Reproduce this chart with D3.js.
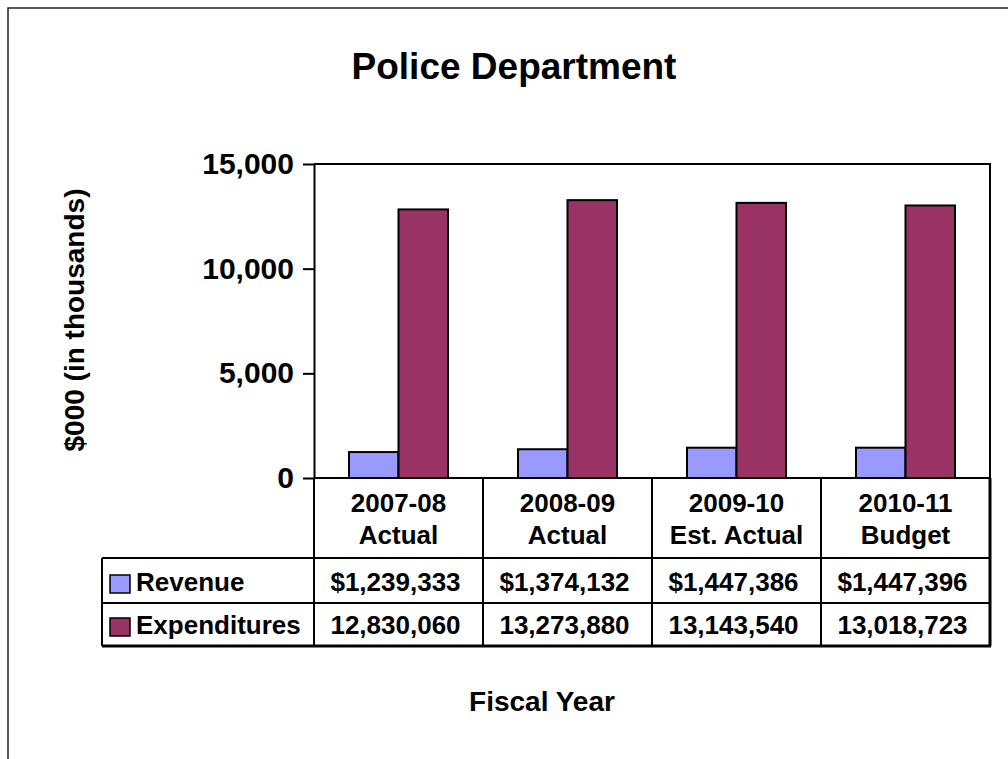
<!DOCTYPE html>
<html>
<head>
<meta charset="utf-8">
<script src="https://cdn.jsdelivr.net/npm/d3@7"></script>
<style>
  html, body { margin: 0; padding: 0; background: #fff; }
  svg { display: block; }
  text { font-family: "Liberation Sans", Arial, sans-serif; font-weight: bold; fill: #000; }
</style>
</head>
<body>
<svg id="chart" width="1008" height="759"></svg>
<script>
// Fiscal years (two header lines each)
const years = ["2007-08", "2008-09", "2009-10", "2010-11"];
const yearNotes = ["Actual", "Actual", "Est. Actual", "Budget"];

// Series names and colours
const seriesNames = ["Revenue", "Expenditures"];
const seriesColors = ["#9999FF", "#993366"];

// Dollar amounts per fiscal year
const revenue = [1239333, 1374132, 1447386, 1447396];
const expenditures = [12830060, 13273880, 13143540, 13018723];

// Labels printed in the data table
const revenueLabels = ["$1,239,333", "$1,374,132", "$1,447,386", "$1,447,396"];
const expenditureLabels = ["12,830,060", "13,273,880", "13,143,540", "13,018,723"];

// Y-axis ticks ($000)
const yTicks = [0, 5000, 10000, 15000];

const svg = d3.select("#chart");

const plot = { left: 314, right: 990, top: 164, bottom: 478 };
const table = { left: 102, headerBottom: 558, row1Bottom: 603, row2Bottom: 646 };

// outer chart frame
svg.append("rect")
  .attr("x", 8).attr("y", 8)
  .attr("width", 1040).attr("height", 800)
  .attr("fill", "#fff").attr("stroke", "#222").attr("stroke-width", 1.5);

// title
svg.append("text")
  .attr("x", 514).attr("y", 79)
  .attr("text-anchor", "middle")
  .style("font-size", "37px")
  .text("Police Department");

const x0 = d3.scaleBand().domain(years).range([plot.left, plot.right]).padding(0);
const x1 = d3.scaleBand().domain(seriesNames).range([0, x0.bandwidth()])
  .paddingInner(0).paddingOuter(0.707);
const y = d3.scaleLinear().domain([0, 15000]).range([plot.bottom, plot.top]);

// bars (values in thousands)
const rows = years.map((yr, i) => ({
  year: yr,
  values: [
    { name: seriesNames[0], v: revenue[i] / 1000, c: seriesColors[0] },
    { name: seriesNames[1], v: expenditures[i] / 1000, c: seriesColors[1] }
  ]
}));

const groups = svg.append("g").selectAll("g").data(rows).join("g")
  .attr("transform", d => `translate(${x0(d.year)},0)`);
groups.selectAll("rect").data(d => d.values).join("rect")
  .attr("x", d => x1(d.name))
  .attr("y", d => y(d.v))
  .attr("width", x1.bandwidth())
  .attr("height", d => y(0) - y(d.v))
  .attr("fill", d => d.c)
  .attr("stroke", "#000")
  .attr("stroke-width", 2);

// plot frame: top and right edges
svg.append("path")
  .attr("d", `M${plot.left},${plot.top}H${plot.right}V${plot.bottom}`)
  .attr("fill", "none").attr("stroke", "#000").attr("stroke-width", 2);

// y axis
const yAxis = svg.append("g")
  .attr("transform", `translate(${plot.left},0)`)
  .call(d3.axisLeft(y).tickValues(yTicks).tickFormat(d3.format(",")).tickSize(11).tickSizeOuter(0).tickPadding(9));
yAxis.select(".domain").attr("stroke", "#000").attr("stroke-width", 2);
yAxis.selectAll(".tick line").attr("stroke", "#000").attr("stroke-width", 2);
yAxis.selectAll(".tick text")
  .style("font-size", "30px")
  .style("font-family", "'Liberation Sans', Arial, sans-serif")
  .style("font-weight", "bold")
  .attr("fill", "#000");

// y axis title
svg.append("text")
  .attr("transform", `translate(84,320) rotate(-90)`)
  .attr("text-anchor", "middle")
  .style("font-size", "28px")
  .text("$000 (in thousands)");

// data table grid
const grid = svg.append("g").attr("stroke", "#000").attr("stroke-width", 2).attr("fill", "none");
grid.append("line").attr("x1", plot.left).attr("x2", plot.right).attr("y1", plot.bottom).attr("y2", plot.bottom);
[table.headerBottom, table.row1Bottom].forEach(yy =>
  grid.append("line").attr("x1", table.left).attr("x2", plot.right).attr("y1", yy).attr("y2", yy));
grid.append("line").attr("x1", table.left).attr("x2", plot.right + 1)
  .attr("y1", table.row2Bottom).attr("y2", table.row2Bottom).attr("stroke-width", 3);
grid.append("line").attr("x1", table.left).attr("x2", table.left)
  .attr("y1", table.headerBottom).attr("y2", table.row2Bottom);
const dividers = years.map(d => x0(d)).concat([plot.right]);
grid.selectAll("line.div").data(dividers).join("line").attr("class", "div")
  .attr("x1", d => d).attr("x2", d => d)
  .attr("y1", plot.bottom).attr("y2", table.row2Bottom)
  .attr("stroke-width", (d, i) => i === dividers.length - 1 ? 3 : 2);

// header cells
const cx = d => x0(d) + x0.bandwidth() / 2;
svg.append("g").selectAll("text").data(years).join("text")
  .attr("x", cx).attr("y", 512).attr("text-anchor", "middle")
  .style("font-size", "26px").text(d => d);
svg.append("g").selectAll("text").data(years).join("text")
  .attr("x", cx).attr("y", 544).attr("text-anchor", "middle")
  .style("font-size", "26px").text((d, i) => yearNotes[i]);

// value cells
svg.append("g").selectAll("text").data(years).join("text")
  .attr("x", d => cx(d) - 3).attr("y", 591).attr("text-anchor", "middle")
  .style("font-size", "26px").text((d, i) => revenueLabels[i]);
svg.append("g").selectAll("text").data(years).join("text")
  .attr("x", d => cx(d) - 3).attr("y", 634).attr("text-anchor", "middle")
  .style("font-size", "26px").text((d, i) => expenditureLabels[i]);

// legend keys in the row headers
const rowBaselines = [591, 634];
seriesNames.forEach((name, i) => {
  svg.append("rect")
    .attr("x", 110).attr("y", rowBaselines[i] - 16)
    .attr("width", 20).attr("height", 18)
    .attr("fill", seriesColors[i]).attr("stroke", "#000").attr("stroke-width", 1.5);
  svg.append("text")
    .attr("x", 136).attr("y", rowBaselines[i])
    .style("font-size", "26px").text(name);
});

// x axis title
svg.append("text")
  .attr("x", 542).attr("y", 711).attr("text-anchor", "middle")
  .style("font-size", "28px")
  .text("Fiscal Year");
</script>
</body>
</html>
